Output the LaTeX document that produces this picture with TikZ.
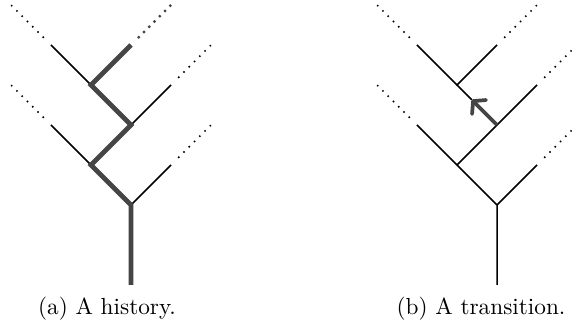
\documentclass[tikz,border=0pt]{standalone}
\usepackage{tikz}
\usetikzlibrary{arrows.meta,calc}
\definecolor{histgray}{HTML}{454545}

\begin{document}
\begin{tikzpicture}[x=17.2pt, y=17.2pt,
	branch/.style={line width=0.65pt},
	hist/.style={line width=2pt, draw=histgray, line join=miter, miter limit=1.5},
	more/.style={line width=0.9pt, dash pattern=on 0pt off 3.2pt, line cap=round, shorten <=4.7pt},
	histmore/.style={more, line width=1.35pt, draw=histgray},
	move/.style={-{Straight Barb[length=3.6pt, width=8.5pt, round]}, line width=1.6pt, draw=histgray}]
	\useasboundingbox (0,0) rectangle (14.3,8.175);
	% (a) a history
	\coordinate (r0) at (3.275,1.05);
	\coordinate (r) at (3.275,3.05);
	\coordinate (rr) at (4.275,4.05);
	\coordinate (a) at (2.275,4.05);
	\coordinate (al) at (1.275,5.05);
	\coordinate (b) at (3.275,5.05);
	\coordinate (br) at (4.275,6.05);
	\coordinate (c) at (2.275,6.05);
	\coordinate (cl) at (1.275,7.05);
	\coordinate (cr) at (3.275,7.05);
	\coordinate (rrx) at (5.275,5.05);
	\coordinate (alx) at (0.275,6.05);
	\coordinate (brx) at (5.275,7.05);
	\coordinate (clx) at (0.275,8.05);
	\coordinate (crx) at (4.275,8.05);
	\draw[branch] (r) -- (rr);
	\draw[branch] (a) -- (al);
	\draw[branch] (b) -- (br);
	\draw[branch] (c) -- (cl);
	\draw[hist] (r0) -- (r) -- (a) -- (b) -- (c) -- (cr);
	\draw[more] (rr) -- (rrx);
	\draw[more] (al) -- (alx);
	\draw[more] (br) -- (brx);
	\draw[more] (cl) -- (clx);
	\draw[histmore] (cr) -- (crx);
	\node[anchor=base] (capa) at (2.675,0.3) {(a) A history.};
	% (b) a transition
	\coordinate (s0) at (12.425,1.05);
	\coordinate (s) at (12.425,3.05);
	\coordinate (sr) at (13.425,4.05);
	\coordinate (p) at (11.425,4.05);
	\coordinate (pl) at (10.425,5.05);
	\coordinate (q) at (12.425,5.05);
	\coordinate (qr) at (13.425,6.05);
	\coordinate (t) at (11.425,6.05);
	\coordinate (tl) at (10.425,7.05);
	\coordinate (tr) at (12.425,7.05);
	\coordinate (srx) at (14.425,5.05);
	\coordinate (plx) at (9.425,6.05);
	\coordinate (qrx) at (14.425,7.05);
	\coordinate (tlx) at (9.425,8.05);
	\coordinate (trx) at (13.425,8.05);
	\coordinate (tip) at ($(q)!0.63!(t)$);
	\draw[branch] (s0) -- (s) -- (sr);
	\draw[branch] (s) -- (p) -- (pl);
	\draw[branch] (p) -- (q) -- (qr);
	\draw[branch] (tl) -- (t) -- (tr);
	\draw[branch] (t) -- (tip);
	\draw[move] (q) -- (tip);
	\draw[more] (sr) -- (srx);
	\draw[more] (pl) -- (plx);
	\draw[more] (qr) -- (qrx);
	\draw[more] (tl) -- (tlx);
	\draw[more] (tr) -- (trx);
	\node[anchor=base] (capb) at (12.025,0.3) {(b) A transition.};
\end{tikzpicture}
\end{document}
